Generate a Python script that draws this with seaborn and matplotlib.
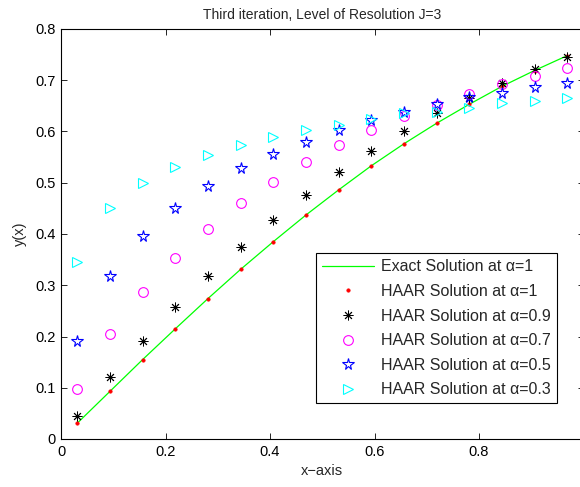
import numpy as np
import pandas as pd
import matplotlib
matplotlib.use("Agg")
import matplotlib.pyplot as plt
import seaborn as sns

# ---- data ----
x_pts = [0.03125, 0.09375, 0.15625, 0.21875, 0.28125, 0.34375, 0.40625, 0.46875,
         0.53125, 0.59375, 0.65625, 0.71875, 0.78125, 0.84375, 0.90625, 0.96875]
exact_a1 = [0.031, 0.093, 0.155, 0.215, 0.274, 0.331, 0.385, 0.437,
            0.486, 0.533, 0.576, 0.616, 0.653, 0.688, 0.719, 0.748]
haar_a1 = [0.031, 0.093, 0.155, 0.215, 0.274, 0.331, 0.385, 0.437,
           0.486, 0.533, 0.576, 0.616, 0.653, 0.688, 0.719, 0.748]
haar_a09 = [0.045, 0.121, 0.191, 0.257, 0.318, 0.374, 0.427, 0.476,
            0.520, 0.562, 0.601, 0.637, 0.665, 0.695, 0.721, 0.746]
haar_a07 = [0.097, 0.204, 0.286, 0.353, 0.410, 0.460, 0.502, 0.540,
            0.574, 0.603, 0.630, 0.652, 0.673, 0.692, 0.709, 0.723]
haar_a05 = [0.191, 0.319, 0.396, 0.451, 0.494, 0.528, 0.556, 0.580,
            0.603, 0.622, 0.639, 0.654, 0.667, 0.676, 0.686, 0.695]
haar_a03 = [0.346, 0.450, 0.499, 0.531, 0.554, 0.574, 0.589, 0.602,
            0.613, 0.624, 0.636, 0.639, 0.645, 0.655, 0.659, 0.665]

labels = ["Exact Solution at \u03b1=1", "HAAR Solution at \u03b1=1",
          "HAAR Solution at \u03b1=0.9", "HAAR Solution at \u03b1=0.7",
          "HAAR Solution at \u03b1=0.5", "HAAR Solution at \u03b1=0.3"]
x_ticks = [0, 0.2, 0.4, 0.6, 0.8, 1.0]
x_tick_labels = ["0", "0.2", "0.4", "0.6", "0.8", ""]
y_ticks = [0, 0.1, 0.2, 0.3, 0.4, 0.5, 0.6, 0.7, 0.8]
y_tick_labels = ["0", "0.1", "0.2", "0.3", "0.4", "0.5", "0.6", "0.7", "0.8"]

sns.set_theme(style="white")
plt.rcParams["font.family"] = ["Liberation Sans", "DejaVu Sans"]

W, H = 580, 487
fig = plt.figure(figsize=(W / 100, H / 100), dpi=100)
fig.patch.set_facecolor("white")
L, R, T, B = 61, 583.5, 29, 439
ax = fig.add_axes([L / W, 1 - B / H, (R - L) / W, (B - T) / H])

x = np.array(x_pts)
sns.lineplot(x=x, y=exact_a1, ax=ax, color="#00ff00", linewidth=0.9,
             label=labels[0], sort=False)
sns.lineplot(x=x, y=haar_a1, ax=ax, color="red", linestyle="", marker="o",
             markersize=2.6, markerfacecolor="red", markeredgecolor="red",
             markeredgewidth=0.3, label=labels[1], sort=False)
sns.lineplot(x=x, y=haar_a09, ax=ax, color="black", linestyle="", marker=(8, 2, 0),
             markersize=7, markeredgecolor="black", markeredgewidth=0.65,
             label=labels[2], sort=False)
sns.lineplot(x=x, y=haar_a07, ax=ax, color="magenta", linestyle="", marker="o",
             markersize=7, markerfacecolor="none", markeredgecolor="magenta",
             markeredgewidth=0.8, label=labels[3], sort=False)
sns.lineplot(x=x, y=haar_a05, ax=ax, color="blue", linestyle="", marker="*",
             markersize=8.5, markerfacecolor="none", markeredgecolor="blue",
             markeredgewidth=0.8, label=labels[4], sort=False)
sns.lineplot(x=x, y=haar_a03, ax=ax, color="cyan", linestyle="", marker=">",
             markersize=7.5, markerfacecolor="none", markeredgecolor="#00ffff",
             markeredgewidth=0.8, label=labels[5], sort=False)

ax.set_xlim(0, 1)
ax.set_ylim(0, 0.8)
ax.set_xticks(x_ticks)
ax.set_xticklabels(x_tick_labels)
ax.set_yticks(y_ticks)
ax.set_yticklabels(y_tick_labels)
ax.tick_params(direction="in", length=4, width=0.6, top=True, right=True,
               bottom=True, left=True, labelsize=10.5, colors="black", pad=4)
for s in ax.spines.values():
    s.set_visible(True)
    s.set_color("black")
    s.set_linewidth(0.8)

ax.set_title("Third iteration, Level of Resolution J=3", fontsize=10, pad=7)
ax.set_xlabel("x\u2212axis", fontsize=10.5, labelpad=4)
ax.set_ylabel("y(x)", fontsize=10.5, labelpad=6)

leg = ax.legend(loc="upper left", bbox_to_anchor=(315.7 / W, 1 - 253.3 / H),
                bbox_transform=fig.transFigure, fontsize=11.5, frameon=True,
                fancybox=False, edgecolor="black", framealpha=1,
                borderpad=0.38, labelspacing=0.6, handlelength=3.3,
                handletextpad=0.4, borderaxespad=0)
leg.get_frame().set_linewidth(0.8)

fig.savefig("out.png", dpi=100)
